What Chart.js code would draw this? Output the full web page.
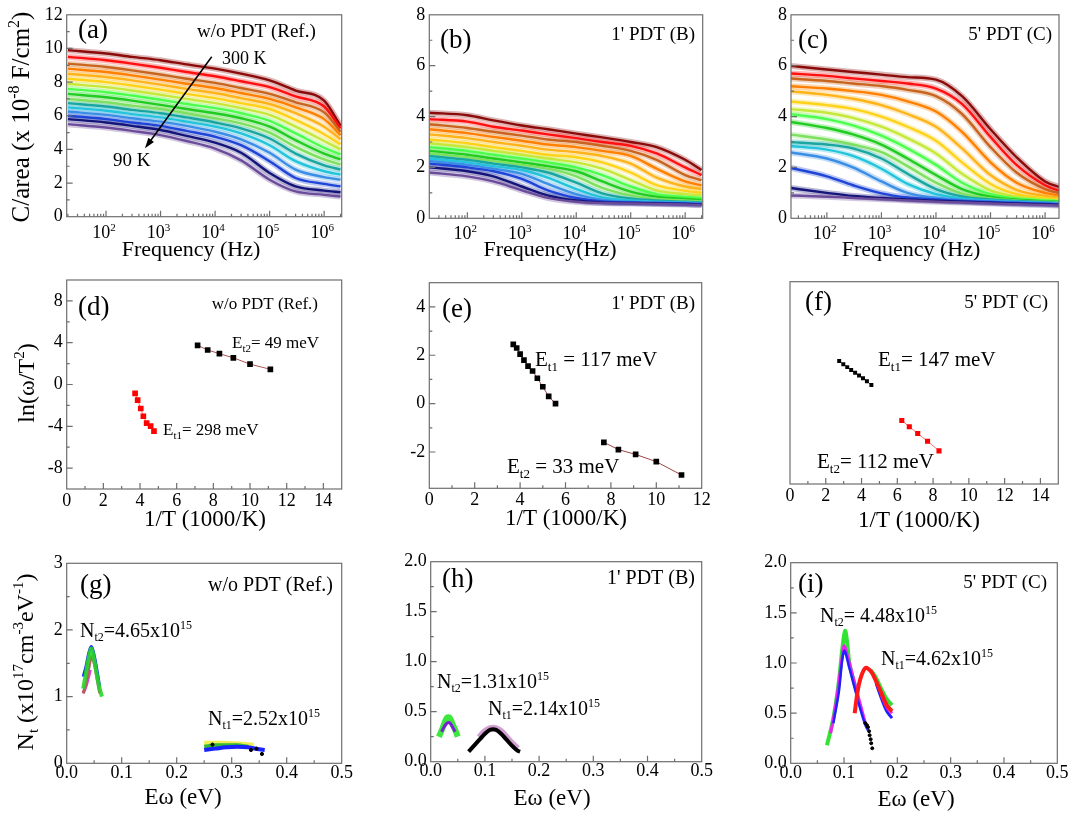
<!DOCTYPE html>
<html>
<head>
<meta charset="utf-8">
<title>C-f spectra, Arrhenius plots and trap densities</title>
<script src="https://cdn.jsdelivr.net/npm/chart.js@4.4.1/dist/chart.umd.min.js"></script>
<style>
  body { margin: 0; background: #fff; }
  #wrap { position: relative; width: 1068px; height: 817px; overflow: hidden; }
  #wrap canvas { position: absolute; left: 0; top: 0; }
</style>
</head>
<body>
<div id="wrap">
  <canvas id="pa" width="1068" height="817"></canvas>
  <canvas id="pb" width="1068" height="817"></canvas>
  <canvas id="pc" width="1068" height="817"></canvas>
  <canvas id="pd" width="1068" height="817"></canvas>
  <canvas id="pe" width="1068" height="817"></canvas>
  <canvas id="pf" width="1068" height="817"></canvas>
  <canvas id="pg" width="1068" height="817"></canvas>
  <canvas id="ph" width="1068" height="817"></canvas>
  <canvas id="pi" width="1068" height="817"></canvas>
</div>
<script>
var FONT = "'Liberation Serif', 'Times New Roman', serif";

// frequency grid (Hz) for the C-f curves
var freqs = [20, 100, 300, 1e3, 3e3, 1e4, 3e4, 1e5, 3e5, 1e6, 2e6];

// C/area (x1e-8 F/cm2), rows go 90 K -> 300 K
var capA = [
  [5.5, 5.3, 5.1, 4.85, 4.5, 4.05, 3.35, 2.2, 1.5, 1.3, 1.2],
  [5.8, 5.6, 5.4, 5.15, 4.8, 4.4, 3.8, 2.6, 1.8, 1.55, 1.45],
  [6.0, 5.8, 5.6, 5.4, 5.1, 4.75, 4.25, 3.3, 2.3, 1.95, 1.8],
  [6.25, 6.05, 5.85, 5.65, 5.4, 5.05, 4.6, 3.8, 2.8, 2.35, 2.2],
  [6.5, 6.3, 6.1, 5.9, 5.65, 5.35, 4.95, 4.25, 3.3, 2.7, 2.5],
  [6.75, 6.55, 6.35, 6.15, 5.9, 5.6, 5.25, 4.65, 3.75, 3.05, 2.8],
  [7.0, 6.8, 6.6, 6.4, 6.15, 5.85, 5.55, 5.0, 4.15, 3.4, 3.1],
  [7.3, 7.1, 6.9, 6.65, 6.4, 6.15, 5.85, 5.35, 4.55, 3.75, 3.4],
  [7.6, 7.4, 7.2, 6.95, 6.7, 6.45, 6.15, 5.7, 4.95, 4.1, 3.7],
  [7.9, 7.7, 7.5, 7.25, 7.0, 6.75, 6.45, 6.05, 5.35, 4.5, 4.0],
  [8.2, 8.0, 7.8, 7.55, 7.3, 7.05, 6.75, 6.4, 5.75, 4.9, 4.3],
  [8.5, 8.3, 8.1, 7.85, 7.6, 7.35, 7.05, 6.7, 6.15, 5.35, 4.6],
  [8.8, 8.6, 8.4, 8.15, 7.9, 7.65, 7.35, 7.0, 6.5, 5.8, 4.85],
  [9.1, 8.9, 8.7, 8.45, 8.2, 7.95, 7.65, 7.3, 6.8, 6.2, 5.05],
  [9.5, 9.3, 9.1, 8.85, 8.6, 8.35, 8.05, 7.7, 7.15, 6.55, 5.25],
  [9.9, 9.7, 9.5, 9.3, 9.05, 8.8, 8.5, 8.1, 7.5, 6.9, 5.4]
];
var capB = [
  [1.8, 1.65, 1.45, 1.1, 0.8, 0.65, 0.6, 0.58, 0.56, 0.54, 0.52],
  [2.0, 1.85, 1.65, 1.25, 0.9, 0.7, 0.62, 0.6, 0.58, 0.56, 0.54],
  [2.15, 2.0, 1.85, 1.55, 1.1, 0.8, 0.66, 0.62, 0.6, 0.58, 0.56],
  [2.25, 2.1, 1.95, 1.75, 1.35, 0.95, 0.72, 0.65, 0.62, 0.6, 0.58],
  [2.35, 2.2, 2.05, 1.9, 1.6, 1.15, 0.82, 0.7, 0.65, 0.62, 0.6],
  [2.45, 2.3, 2.15, 2.0, 1.8, 1.4, 0.98, 0.78, 0.7, 0.65, 0.62],
  [2.55, 2.4, 2.25, 2.1, 1.95, 1.65, 1.2, 0.9, 0.76, 0.7, 0.66],
  [2.65, 2.5, 2.35, 2.2, 2.05, 1.85, 1.45, 1.05, 0.85, 0.76, 0.72],
  [2.8, 2.65, 2.5, 2.35, 2.2, 2.0, 1.7, 1.25, 0.95, 0.84, 0.8],
  [2.95, 2.8, 2.65, 2.5, 2.35, 2.2, 1.95, 1.5, 1.1, 0.95, 0.9],
  [3.1, 2.95, 2.8, 2.65, 2.5, 2.4, 2.2, 1.8, 1.3, 1.08, 1.0],
  [3.3, 3.15, 3.0, 2.85, 2.7, 2.6, 2.45, 2.15, 1.6, 1.25, 1.15],
  [3.5, 3.35, 3.2, 3.05, 2.9, 2.8, 2.65, 2.45, 1.95, 1.45, 1.3],
  [3.7, 3.55, 3.4, 3.25, 3.1, 3.0, 2.85, 2.65, 2.3, 1.7, 1.5],
  [3.9, 3.8, 3.6, 3.45, 3.3, 3.15, 3.0, 2.85, 2.55, 2.0, 1.7],
  [4.15, 4.05, 3.85, 3.65, 3.5, 3.33, 3.18, 3.0, 2.8, 2.3, 1.9]
];
var capC = [
  [0.9, 0.85, 0.8, 0.75, 0.7, 0.65, 0.62, 0.58, 0.55, 0.52, 0.5],
  [1.2, 1.0, 0.88, 0.8, 0.74, 0.69, 0.65, 0.61, 0.58, 0.55, 0.53],
  [2.0, 1.65, 1.3, 0.98, 0.82, 0.74, 0.68, 0.64, 0.6, 0.57, 0.55],
  [2.6, 2.35, 2.0, 1.45, 1.0, 0.8, 0.72, 0.67, 0.63, 0.59, 0.57],
  [2.85, 2.7, 2.45, 1.95, 1.35, 0.95, 0.78, 0.7, 0.65, 0.61, 0.59],
  [3.0, 2.9, 2.75, 2.35, 1.75, 1.15, 0.86, 0.74, 0.68, 0.63, 0.6],
  [3.3, 3.1, 2.9, 2.6, 2.05, 1.4, 0.97, 0.78, 0.7, 0.65, 0.62],
  [3.8, 3.55, 3.3, 2.9, 2.35, 1.7, 1.15, 0.85, 0.73, 0.67, 0.64],
  [4.1, 3.9, 3.65, 3.25, 2.75, 2.1, 1.4, 0.95, 0.78, 0.7, 0.67],
  [4.3, 4.15, 3.95, 3.6, 3.15, 2.55, 1.75, 1.1, 0.85, 0.74, 0.7],
  [4.6, 4.45, 4.3, 4.0, 3.6, 3.05, 2.2, 1.35, 0.95, 0.8, 0.74],
  [5.0, 4.85, 4.7, 4.45, 4.1, 3.6, 2.75, 1.7, 1.12, 0.88, 0.8],
  [5.2, 5.1, 5.0, 4.85, 4.6, 4.2, 3.4, 2.2, 1.4, 1.0, 0.88],
  [5.5, 5.4, 5.3, 5.2, 5.05, 4.8, 4.1, 2.8, 1.8, 1.15, 0.97],
  [5.7, 5.6, 5.5, 5.4, 5.3, 5.1, 4.5, 3.2, 2.1, 1.3, 1.05],
  [6.0, 5.85, 5.75, 5.65, 5.55, 5.45, 4.8, 3.5, 2.4, 1.45, 1.2]
];
var curveColors = ['#6b4c9a', '#14147a', '#1f45d6', '#3b8ee6', '#23c3dc', '#1aa6a0', '#7fe060', '#1fcc1f',
                   '#4dff4d', '#c6e83a', '#ffd21a', '#ffb31a', '#ff8000', '#c8641e', '#ff1010', '#8b0a0a'];

// Arrhenius points: 1/T (1000/K) and ln(w/T^2)
var dT2x = [7.14, 7.69, 8.33, 9.09, 10.0, 11.11];
var dT2y = [3.75, 3.3, 2.95, 2.55, 1.95, 1.45];
var dT1x = [3.73, 3.87, 4.04, 4.18, 4.36, 4.58, 4.76];
var dT1y = [-0.85, -1.5, -2.3, -3.04, -3.69, -3.98, -4.46];
var eT1x = [3.7, 3.85, 4.0, 4.17, 4.35, 4.55, 4.76, 5.0, 5.26, 5.56];
var eT1y = [2.45, 2.3, 2.05, 1.8, 1.55, 1.35, 1.05, 0.7, 0.3, 0.0];
var eT2x = [7.69, 8.33, 9.09, 10.0, 11.11];
var eT2y = [-1.6, -1.9, -2.1, -2.4, -2.95];
var fT1x = [2.75, 2.98, 3.2, 3.42, 3.64, 3.86, 4.08, 4.3, 4.55];
var fT1y = [1.95, 1.65, 1.4, 1.15, 0.9, 0.65, 0.4, 0.15, -0.2];
var fT2x = [6.25, 6.67, 7.14, 7.69, 8.33];
var fT2y = [-3.35, -3.9, -4.5, -5.2, -6.05];

// trap density [E (eV), Nt (1e17 cm-3 eV-1)]
var gT2Green = [[0.03, 1.12], [0.035, 1.35], [0.04, 1.58], [0.045, 1.72], [0.05, 1.55], [0.055, 1.32], [0.06, 1.12], [0.064, 1.0]];
var gT2Blue = [[0.03, 1.3], [0.035, 1.45], [0.04, 1.65], [0.045, 1.75], [0.05, 1.62], [0.055, 1.4], [0.06, 1.15]];
var gT2Brown = [[0.03, 1.05], [0.035, 1.2], [0.04, 1.42], [0.045, 1.6], [0.05, 1.5], [0.055, 1.28], [0.06, 1.05]];
var gT2Magenta = [[0.03, 1.05], [0.035, 1.15], [0.04, 1.3], [0.043, 1.4]];
var gT1Yellow = [[0.25, 0.3], [0.28, 0.3], [0.31, 0.29], [0.34, 0.27]];
var gT1Green = [[0.25, 0.25], [0.27, 0.27], [0.29, 0.27], [0.31, 0.27], [0.33, 0.25]];
var gT1Blue = [[0.25, 0.2], [0.27, 0.22], [0.29, 0.24], [0.31, 0.25], [0.33, 0.24], [0.35, 0.21], [0.36, 0.2]];
var gDots = [[0.265, 0.28], [0.335, 0.2], [0.355, 0.14], [0.345, 0.22]];

var hT2Green = [[0.015, 0.25], [0.02, 0.31], [0.025, 0.38], [0.03, 0.44], [0.035, 0.44], [0.04, 0.38], [0.045, 0.32], [0.05, 0.25]];
var hT2Purple = [[0.02, 0.3], [0.025, 0.35], [0.03, 0.385], [0.035, 0.39], [0.04, 0.35], [0.045, 0.3]];
var hT1Black = [[0.07, 0.1], [0.08, 0.16], [0.09, 0.22], [0.1, 0.28], [0.11, 0.32], [0.12, 0.32], [0.13, 0.28], [0.14, 0.22], [0.15, 0.16], [0.16, 0.11], [0.165, 0.1]];
var hT1Pink = [[0.09, 0.24], [0.1, 0.3], [0.11, 0.33], [0.12, 0.33], [0.13, 0.3], [0.14, 0.24], [0.15, 0.18], [0.16, 0.13]];

var iT1Red = [[0.12, 0.5], [0.125, 0.7], [0.13, 0.83], [0.14, 0.95], [0.15, 0.92], [0.16, 0.82], [0.17, 0.7], [0.18, 0.58], [0.19, 0.52]];
var iT1Green = [[0.15, 0.93], [0.16, 0.85], [0.17, 0.74], [0.18, 0.64], [0.19, 0.58]];
var iT1Blue = [[0.16, 0.8], [0.17, 0.65], [0.18, 0.52], [0.19, 0.45]];
var iT1Magenta = [[0.17, 0.68], [0.18, 0.56], [0.19, 0.5]];
var iT2Green = [[0.068, 0.18], [0.08, 0.45], [0.09, 0.8], [0.097, 1.15], [0.102, 1.32], [0.106, 1.2], [0.11, 1.0], [0.12, 0.78]];
var iT2Magenta = [[0.075, 0.3], [0.085, 0.6], [0.095, 1.0], [0.1, 1.17], [0.105, 1.1], [0.115, 0.9], [0.125, 0.7], [0.135, 0.5], [0.14, 0.4]];
var iT2Blue = [[0.08, 0.4], [0.09, 0.7], [0.1, 1.12], [0.11, 0.95], [0.12, 0.75], [0.13, 0.55], [0.14, 0.38], [0.145, 0.33]];
var iDots = [[0.14, 0.4], [0.143, 0.38], [0.145, 0.36], [0.147, 0.32], [0.148, 0.28], [0.15, 0.24], [0.151, 0.2], [0.153, 0.15]];

function isMul(v, step) {
  var r = v / step;
  return Math.abs(r - Math.round(r)) < 1e-6;
}

function fade(hex, a) {
  var n = parseInt(hex.slice(1), 16);
  return 'rgba(' + (n >> 16) + ',' + ((n >> 8) & 255) + ',' + (n & 255) + ',' + a + ')';
}

// text with sub/superscripts, parts = [[text, 0 | 1 (sup) | -1 (sub)], ...]
function rich(c, x, y, parts, size, align, rot) {
  c.save();
  c.translate(x, y);
  if (rot) c.rotate(rot);
  c.textBaseline = 'alphabetic';
  c.textAlign = 'left';
  c.fillStyle = '#000';
  var w = 0;
  parts.forEach(function (p) {
    c.font = (p[1] ? Math.round(size * 0.62) : size) + 'px ' + FONT;
    w += c.measureText(p[0]).width;
  });
  var cx = align === 'center' ? -w / 2 : (align === 'right' ? -w : 0);
  parts.forEach(function (p) {
    c.font = (p[1] ? Math.round(size * 0.62) : size) + 'px ' + FONT;
    var dy = p[1] === 1 ? -size * 0.4 : (p[1] === -1 ? size * 0.22 : 0);
    c.fillText(p[0], cx, dy);
    cx += c.measureText(p[0]).width;
  });
  c.restore();
}

function deco(cfg) {
  return {
    id: 'deco',
    afterDatasetsDraw: function (chart) {
      var c = chart.ctx, a = chart.chartArea, sx = chart.scales.x, sy = chart.scales.y;
      c.save();
      c.strokeStyle = '#6e6e6e';
      c.lineWidth = 1.2;
      c.strokeRect(a.left, a.top, a.right - a.left, a.bottom - a.top);
      c.beginPath();
      sx.ticks.forEach(function (t) {
        var big;
        if (cfg.logX) {
          big = isMul(Math.log10(t.value), 1);
        } else {
          if (!isMul(t.value, cfg.xMinor)) return;
          big = isMul(t.value, cfg.xMajor);
        }
        var p = sx.getPixelForValue(t.value);
        if (p <= a.left + 1 || p >= a.right - 1) return;
        c.moveTo(p, a.bottom);
        c.lineTo(p, a.bottom - (big ? 6 : 3));
      });
      sy.ticks.forEach(function (t) {
        if (!isMul(t.value, cfg.yMinor)) return;
        var p = sy.getPixelForValue(t.value);
        if (p <= a.top + 1 || p >= a.bottom - 1) return;
        c.moveTo(a.left, p);
        c.lineTo(a.left + (isMul(t.value, cfg.yMajor) ? 6 : 3), p);
      });
      c.stroke();
      if (cfg.logX) {
        for (var n = 2; n <= 6; n++) {
          rich(c, sx.getPixelForValue(Math.pow(10, n)) - 2, a.bottom + 21, [['10', 0], [String(n), 1]], 18, 'center');
        }
      }
      (cfg.texts || []).forEach(function (t) {
        rich(c, t[0], t[1], t[2], t[3], t[4], t[5]);
      });
      if (cfg.arrow) {
        var r = cfg.arrow, ang = Math.atan2(r[3] - r[1], r[2] - r[0]);
        c.strokeStyle = '#000';
        c.fillStyle = '#000';
        c.lineWidth = 1.5;
        c.beginPath();
        c.moveTo(r[0], r[1]);
        c.lineTo(r[2] - 6 * Math.cos(ang), r[3] - 6 * Math.sin(ang));
        c.stroke();
        c.beginPath();
        c.moveTo(r[2], r[3]);
        c.lineTo(r[2] - 11 * Math.cos(ang - 0.32), r[3] - 11 * Math.sin(ang - 0.32));
        c.lineTo(r[2] - 11 * Math.cos(ang + 0.32), r[3] - 11 * Math.sin(ang + 0.32));
        c.closePath();
        c.fill();
      }
      c.restore();
    }
  };
}

function linAxis(min, max, minor, major, digits, pad) {
  return {
    type: 'linear', min: min, max: max,
    grid: { display: false, drawTicks: false },
    border: { display: false },
    ticks: {
      stepSize: minor, autoSkip: false, maxRotation: 0, maxTicksLimit: 200, padding: pad,
      color: '#000', font: { family: FONT, size: 18 },
      callback: function (v) { return isMul(v, major) ? v.toFixed(digits) : ''; }
    }
  };
}

function logAxis(min, max) {
  return {
    type: 'logarithmic', min: min, max: max,
    grid: { display: false, drawTicks: false },
    border: { display: false },
    afterBuildTicks: function (s) {
      var t = [];
      for (var n = 1; n <= 6; n++) {
        for (var k = 1; k <= 9; k++) {
          var v = k * Math.pow(10, n);
          if (v >= min && v <= max) t.push({ value: v });
        }
      }
      s.ticks = t;
    },
    ticks: { autoSkip: false, maxRotation: 0, font: { family: FONT, size: 18 }, callback: function () { return ''; } }
  };
}

function panel(id, box, xs, ys, sets, cfg) {
  var YW = 60, XH = 40;
  xs.afterFit = function (s) { s.height = XH; };
  ys.afterFit = function (s) { s.width = YW; };
  return new Chart(document.getElementById(id), {
    type: 'scatter',
    data: { datasets: sets },
    options: {
      responsive: false, animation: false, events: [],
      layout: { padding: { left: box[0] - YW, top: box[1], right: 1068 - box[2], bottom: 817 - box[3] - XH } },
      plugins: { legend: { display: false }, tooltip: { enabled: false } },
      scales: { x: xs, y: ys }
    },
    plugins: [deco(cfg)]
  });
}

// each temperature: a coloured line over a pale wider band (the measured points)
function curveSets(rows) {
  var lines = [], halos = [];
  rows.forEach(function (row, i) {
    var pts = row.map(function (v, j) { return { x: freqs[j], y: v }; });
    lines.push({ data: pts, showLine: true, borderColor: curveColors[i], borderWidth: 2.4,
      pointRadius: 0, cubicInterpolationMode: 'monotone' });
    halos.push({ data: pts, showLine: true, borderColor: fade(curveColors[i], 0.3), borderWidth: 6,
      pointRadius: 0, cubicInterpolationMode: 'monotone' });
  });
  return lines.concat(halos);
}

function squares(xs, ys, fill, line, r) {
  return {
    data: xs.map(function (x, i) { return { x: x, y: ys[i] }; }),
    showLine: true, borderColor: line, borderWidth: 1,
    pointStyle: 'rect', pointRadius: r, pointBackgroundColor: fill, pointBorderColor: fill, pointBorderWidth: 0
  };
}

function band(pairs, color, w) {
  return {
    data: pairs.map(function (p) { return { x: p[0], y: p[1] }; }),
    showLine: true, borderColor: color, borderWidth: w, pointRadius: 0, tension: 0.35
  };
}

function dots(pairs, r) {
  return {
    data: pairs.map(function (p) { return { x: p[0], y: p[1] }; }),
    showLine: false, pointRadius: r, pointBackgroundColor: '#000', pointBorderColor: '#000'
  };
}

var ROT = -Math.PI / 2;

// ---- row 1: C-f ----
panel('pa', [66.7, 14, 341.7, 216.7], logAxis(19, 2.1e6), linAxis(0, 12, 1, 2, 0, 4), curveSets(capA), {
  logX: true, yMinor: 1, yMajor: 2,
  arrow: [211.7, 56.7, 145, 148.3],
  texts: [
    [78, 38, [['(a)', 0]], 27, 'left'],
    [197, 37, [['w/o PDT (Ref.)', 0]], 19, 'left'],
    [222, 64, [['300 K', 0]], 18, 'left'],
    [113, 166, [['90 K', 0]], 19, 'left'],
    [191, 256, [['Frequency (Hz)', 0]], 22, 'center'],
    [29, 117, [['C/area (x 10', 0], ['-8', 1], [' F/cm', 0], ['2', 1], [')', 0]], 25, 'center', ROT]
  ]
});
panel('pb', [429.3, 14, 702.7, 218.3], logAxis(20, 2.1e6), linAxis(0, 8, 1, 2, 0, 4), curveSets(capB), {
  logX: true, yMinor: 1, yMajor: 2,
  texts: [
    [440, 48, [['(b)', 0]], 27, 'left'],
    [695, 40, [["1' PDT (B)", 0]], 19, 'right'],
    [550, 256, [['Frequency(Hz)', 0]], 22, 'center']
  ]
});
panel('pc', [791, 14, 1059, 218.3], logAxis(22, 1.8e6), linAxis(0, 8, 1, 2, 0, 4), curveSets(capC), {
  logX: true, yMinor: 1, yMajor: 2,
  texts: [
    [798, 48, [['(c)', 0]], 27, 'left'],
    [1052, 40, [["5' PDT (C)", 0]], 19, 'right'],
    [911, 256, [['Frequency (Hz)', 0]], 22, 'center']
  ]
});

// ---- row 2: Arrhenius ----
panel('pd', [66.7, 280, 341.7, 489], linAxis(0, 15, 1, 2, 0, 1), linAxis(-10, 10, 2, 4, 0, 4), [
  squares(dT2x, dT2y, '#000', '#b05555', 4),
  squares(dT1x, dT1y, '#ff0000', '#ff7070', 4)
], {
  xMinor: 1, xMajor: 2, yMinor: 2, yMajor: 4,
  texts: [
    [78, 315, [['(d)', 0]], 27, 'left'],
    [318, 309, [['w/o PDT (Ref.)', 0]], 17, 'right'],
    [232, 348, [['E', 0], ['t2', -1], ['= 49 meV', 0]], 17, 'left'],
    [163, 435, [['E', 0], ['t1', -1], ['= 298 meV', 0]], 17, 'left'],
    [205, 526, [['1/T (1000/K)', 0]], 23, 'center'],
    [34, 383, [['ln(\u03c9/T', 0], ['2', 1], [')', 0]], 24, 'center', ROT]
  ]
});
panel('pe', [429.3, 282.7, 701.7, 488.3], linAxis(0, 12, 1, 2, 0, 1), linAxis(-3.5, 5, 1, 2, 0, 4), [
  squares(eT1x, eT1y, '#000', '#a04545', 4),
  squares(eT2x, eT2y, '#000', '#a04545', 4)
], {
  xMinor: 1, xMajor: 2, yMinor: 1, yMajor: 2,
  texts: [
    [442, 317, [['(e)', 0]], 27, 'left'],
    [695, 309, [["1' PDT (B)", 0]], 19, 'right'],
    [535, 366, [['E', 0], ['t1', -1], [' = 117 meV', 0]], 21, 'left'],
    [507, 473, [['E', 0], ['t2', -1], [' = 33 meV', 0]], 21, 'left'],
    [566, 525, [['1/T (1000/K)', 0]], 23, 'center']
  ]
});
panel('pf', [790, 281.7, 1058.3, 484], linAxis(0, 15, 1, 2, 0, 1), linAxis(-9, 9, 2, 4, 0, 4), [
  squares(fT1x, fT1y, '#000', '#a04545', 2.8),
  squares(fT2x, fT2y, '#ff0000', '#ff7070', 3.6)
], {
  xMinor: 1, xMajor: 2, yMinor: 2, yMajor: 4,
  texts: [
    [805, 310, [['(f)', 0]], 27, 'left'],
    [1048, 308, [["5' PDT (C)", 0]], 19, 'right'],
    [878, 366, [['E', 0], ['t1', -1], ['= 147 meV', 0]], 21, 'left'],
    [817, 468, [['E', 0], ['t2', -1], ['= 112 meV', 0]], 21, 'left'],
    [919, 527, [['1/T (1000/K)', 0]], 23, 'center']
  ]
});

// ---- row 3: trap density ----
panel('pg', [66.7, 563.3, 341.7, 763.3], linAxis(0, 0.5, 0.05, 0.1, 1, -1), linAxis(0, 3, 0.5, 1, 0, 4), [
  dots(gDots, 1.6),
  band(gT2Green, 'rgba(40,215,40,0.9)', 4),
  band(gT2Blue, '#1a2cff', 3),
  band(gT2Brown, '#b0605a', 3),
  band(gT2Magenta, '#e040e0', 3),
  band(gT1Blue, '#1a22ff', 4),
  band(gT1Green, '#33bb33', 4),
  band(gT1Yellow, 'rgba(235,235,40,0.8)', 5)
], {
  xMinor: 0.05, xMajor: 0.1, yMinor: 0.5, yMajor: 1,
  texts: [
    [80, 593, [['(g)', 0]], 27, 'left'],
    [333, 591, [['w/o PDT (Ref.)', 0]], 20, 'right'],
    [80, 637, [['N', 0], ['t2', -1], ['=4.65x10', 0], ['15', 1]], 20, 'left'],
    [208, 725, [['N', 0], ['t1', -1], ['=2.52x10', 0], ['15', 1]], 20, 'left'],
    [183, 804, [['E\u03c9 (eV)', 0]], 23, 'center'],
    [33, 662, [['N', 0], ['t', -1], [' (x10', 0], ['17', 1], ['cm', 0], ['-3', 1], ['eV', 0], ['-1', 1], [')', 0]], 24, 'center', ROT]
  ]
});
panel('ph', [430.7, 561.7, 701.7, 761.7], linAxis(0, 0.5, 0.05, 0.1, 1, -1), linAxis(0, 2, 0.25, 0.5, 1, 4), [
  band(hT1Black, '#000', 4),
  band(hT1Pink, 'rgba(190,120,190,0.7)', 7),
  band(hT2Purple, '#7a1fd6', 3),
  band(hT2Green, 'rgba(40,230,40,0.9)', 6)
], {
  xMinor: 0.05, xMajor: 0.1, yMinor: 0.25, yMajor: 0.5,
  texts: [
    [442, 587, [['(h)', 0]], 27, 'left'],
    [695, 584, [["1' PDT (B)", 0]], 20, 'right'],
    [437, 688, [['N', 0], ['t2', -1], ['=1.31x10', 0], ['15', 1]], 20, 'left'],
    [488, 715, [['N', 0], ['t1', -1], ['=2.14x10', 0], ['15', 1]], 20, 'left'],
    [552, 805, [['E\u03c9 (eV)', 0]], 23, 'center']
  ]
});
panel('pi', [790.7, 562.7, 1057.3, 763.3], linAxis(0, 0.5, 0.05, 0.1, 1, -1), linAxis(0, 2, 0.25, 0.5, 1, 4), [
  band(iT1Red, '#ff1a1a', 4),
  dots(iDots, 1.5),
  band(iT2Blue, '#2020ff', 2.5),
  band(iT2Magenta, '#ee22ee', 3),
  band(iT2Green, 'rgba(40,225,40,0.95)', 4),
  band(iT1Magenta, '#ee22ee', 3),
  band(iT1Blue, '#2020ff', 3),
  band(iT1Green, '#33dd33', 4)
], {
  xMinor: 0.05, xMajor: 0.1, yMinor: 0.25, yMajor: 0.5,
  texts: [
    [798, 592, [['(i)', 0]], 27, 'left'],
    [1047, 588, [["5' PDT (C)", 0]], 19, 'right'],
    [820, 622, [['N', 0], ['t2', -1], ['= 4.48x10', 0], ['15', 1]], 20, 'left'],
    [881, 665, [['N', 0], ['t1', -1], ['=4.62x10', 0], ['15', 1]], 20, 'left'],
    [916, 806, [['E\u03c9 (eV)', 0]], 23, 'center']
  ]
});
</script>
</body>
</html>
